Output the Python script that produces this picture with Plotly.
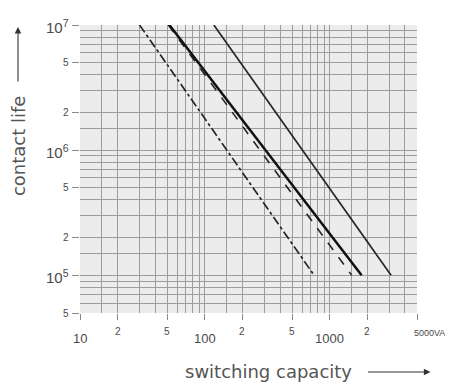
import numpy as np
import plotly.graph_objects as go

# ---- data ----
# straight lines on log-log paper: switching capacity (VA) vs contact life
series_names = ["dash-dot", "dashed", "solid heavy", "solid right"]
cap_dashdot = [30, 750]
life_dashdot = [1e7, 1e5]
cap_dashed = [51, 1500]
life_dashed = [1e7, 1e5]
cap_heavy = [52, 1800]
life_heavy = [1e7, 1e5]
cap_right = [118, 3100]
life_right = [1e7, 1e5]

x_tick_vals = [10, 20, 50, 100, 200, 500, 1000, 2000, 5000]
x_tick_text = ["10", "2", "5", "100", "2", "5", "1000", "2", "5000VA"]
y_tick_vals = [1e7, 5e6, 2e6, 1e6, 5e5, 2e5, 1e5, 5e4]
y_tick_text = ["10<sup>7</sup>", "5", "2", "10<sup>6</sup>", "5", "2", "10<sup>5</sup>", "5"]
grid_mantissas = [1, 1.5, 2, 3, 4, 5, 6, 7, 8, 9]

x_range = [10, 5000]
y_range = [5e4, 1e7]

# ---- figure ----
def grid_vals(lo, hi):
    out = []
    for d in range(int(np.floor(np.log10(lo))), int(np.ceil(np.log10(hi))) + 1):
        for m in grid_mantissas:
            v = m * 10 ** d
            if lo <= v <= hi * 1.0001:
                out.append(v)
    return out

INK = "#262626"
fig = go.Figure()
fig.add_trace(go.Scatter(x=cap_dashdot, y=life_dashdot, mode="lines",
                         line=dict(color=INK, width=1.7, dash="dashdot"), name=series_names[0]))
fig.add_trace(go.Scatter(x=cap_dashed, y=life_dashed, mode="lines",
                         line=dict(color=INK, width=1.6, dash="dash"), name=series_names[1]))
fig.add_trace(go.Scatter(x=cap_heavy, y=life_heavy, mode="lines",
                         line=dict(color="#111", width=2.5), name=series_names[2]))
fig.add_trace(go.Scatter(x=cap_right, y=life_right, mode="lines",
                         line=dict(color=INK, width=1.7), name=series_names[3]))

GRID = "#9c9c9c"
TXT = "#4a4a4a"
fig.update_xaxes(type="log", range=[np.log10(x_range[0]), np.log10(x_range[1])],
                 tickvals=x_tick_vals, showticklabels=False, ticks="outside", ticklen=6,
                 tickcolor="#888", tickwidth=1, showgrid=True, gridcolor=GRID, gridwidth=1.4,
                 zeroline=False, showline=False,
                 minor=dict(tickvals=grid_vals(*x_range), showgrid=True, gridcolor=GRID,
                            gridwidth=1.4, ticks=""))
fig.update_yaxes(type="log", range=[np.log10(y_range[0]), np.log10(y_range[1])],
                 tickvals=y_tick_vals, showticklabels=False, ticks="outside", ticklen=7,
                 tickcolor="#888", tickwidth=1, showgrid=True, gridcolor=GRID, gridwidth=1.4,
                 zeroline=False, showline=False,
                 minor=dict(tickvals=grid_vals(*y_range), showgrid=True, gridcolor=GRID,
                            gridwidth=1.4, ticks=""))

ann = []
for v, t in zip(y_tick_vals, y_tick_text):
    big = "sup" in t
    ann.append(dict(x=0, xref="paper", y=np.log10(v), yref="y", text=t, showarrow=False,
                    xanchor="right", yanchor="middle", xshift=-9, yshift=-1 if big else 0,
                    font=dict(family="Liberation Sans", size=15 if big else 10, color=TXT)))
for v, t in zip(x_tick_vals, x_tick_text):
    big = t in ("10", "100", "1000")
    if t.endswith("VA"):
        ann.append(dict(x=np.log10(v), xref="x", y=0, yref="paper", text=t, showarrow=False,
                        xanchor="left", yanchor="top", xshift=-5, yshift=-13,
                        font=dict(family="Liberation Sans", size=9, color=TXT)))
        continue
    ann.append(dict(x=np.log10(v), xref="x", y=0, yref="paper", text=t, showarrow=False,
                    xanchor="center", yanchor="top", yshift=-16 if big else -11,
                    font=dict(family="Liberation Sans", size=13 if big else 10, color=TXT)))

# axis titles with arrows
ann.append(dict(x=-0.184, xref="paper", y=0.583, yref="paper", text="contact life",
                textangle=-90, showarrow=False, xanchor="center", yanchor="middle",
                font=dict(family="DejaVu Sans", size=18, color="#555")))
ann.append(dict(x=-0.184, xref="paper", y=0.993, yref="paper", text="", showarrow=True,
                ax=0, ay=56, arrowhead=2, arrowsize=1.2, arrowwidth=1.1, arrowcolor="#333",
                standoff=0))
ann.append(dict(x=0.558, xref="paper", y=-0.202, yref="paper", text="switching capacity",
                showarrow=False, xanchor="center", yanchor="middle",
                font=dict(family="DejaVu Sans", size=18, color="#555")))
ann.append(dict(x=1.04, xref="paper", y=-0.205, yref="paper", text="", showarrow=True,
                ax=-64, ay=0, arrowhead=2, arrowsize=1.2, arrowwidth=1.1, arrowcolor="#333",
                standoff=0))

# page body has an 8px margin: shrink the figure so the plot lands where the reference has it
fig.update_layout(width=445, height=376, margin=dict(l=72, r=36, t=17, b=71),
                  paper_bgcolor="white", plot_bgcolor="#ececec", showlegend=False,
                  annotations=ann)

fig.write_html("out.html")
